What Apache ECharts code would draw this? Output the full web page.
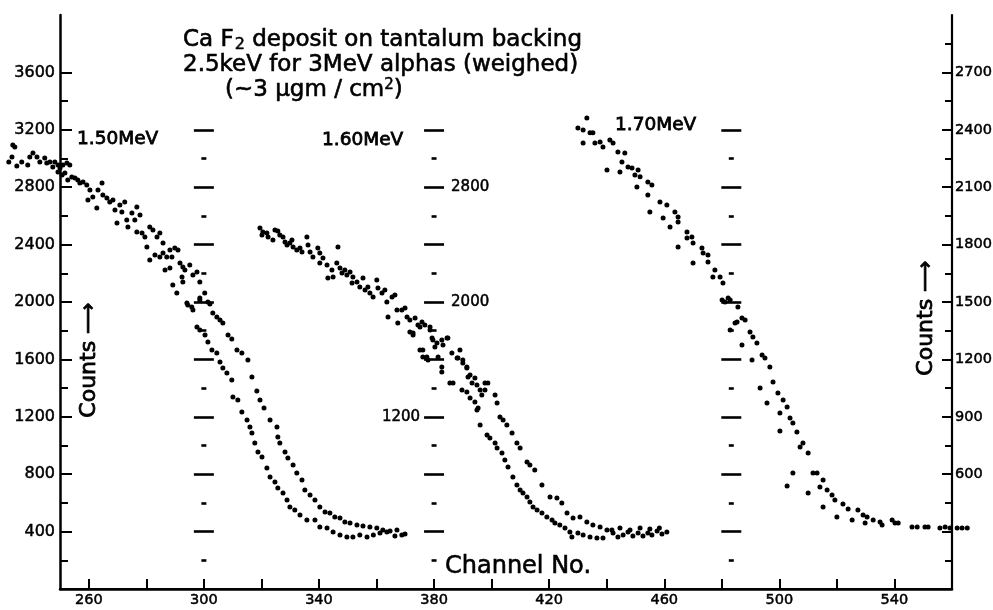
<!DOCTYPE html>
<html>
<head>
<meta charset="utf-8">
<script src="https://cdn.jsdelivr.net/npm/echarts@6/dist/echarts.min.js"></script>
<style>html,body{margin:0;padding:0;background:#fff;}#c{width:993px;height:610px;}</style>
</head>
<body>
<div id="c"></div>
<script>
// ---------- data (channel, counts) ----------
const mev150_a = [[233.6,3094],[233.3,3010],[235,2948],[239.5,3010],[242,3010],[245.4,2969],[248.2,2976],[250,2934],[252.4,2969],[249.3,2906],[251.7,2899],[254.1,2871],[256.2,2850],[258,2836],[260.4,2781],[261.4,2732],[263.2,2781],[264.9,2746],[267.3,2697],[269.1,2641],[270.8,2676],[272.5,2697],[273.6,2523],[276,2572],[277.8,2606],[278.5,2481],[280.2,2383],[282.3,2502],[284.7,2481],[283,2328],[285.8,2342],[288.2,2363],[291,2363],[288.2,2237],[291.7,2272],[290.6,2063],[293.4,2223],[296.2,2188],[298.6,2139],[300.3,2063],[301.4,2000],[302.1,1986],[303.1,1923],[304.5,1896],[305.6,1875],[306.6,1854],[308.4,1770],[309.7,1742],[311.5,1666],[313.2,1645],[315.3,1596],[316.7,1477],[318.4,1380],[319.5,1317],[320.9,1261],[323,1178],[325.4,1129],[325.7,1059],[326.4,1017],[328.2,955],[329.2,913],[331,864],[332.3,808],[334.1,760],[335.1,690],[336.9,655],[338.6,620],[340.3,571],[342.1,537],[343.8,530],[345.5,502],[347.3,495],[349,467],[350.8,460],[353.2,446],[355.3,439],[357.7,432],[360.1,425],[362.2,411],[364.7,404],[367.1,411],[369.9,383]];
const mev150_b = [[234.3,3080],[232.2,2976],[236.7,2976],[238.8,2955],[240.6,3038],[243,2976],[244.7,3003],[246.5,2976],[247.5,2941],[249.3,2955],[251,2955],[253.4,2955],[250.7,2885],[252.7,2850],[255.2,2864],[256.9,2829],[259.3,2815],[259.7,2711],[262.8,2655],[264.6,2829],[266.3,2725],[268.4,2711],[269.8,2551],[271.5,2627],[273.2,2572],[275,2620],[276.7,2662],[276.7,2488],[279.5,2453],[281.2,2523],[283.7,2453],[285.8,2411],[281.2,2293],[284.7,2314],[287.1,2314],[289.9,2376],[286.5,2223],[288.9,2314],[292.7,2244],[289.2,2119],[292.4,2174],[295.1,2258],[297.6,2209],[292.7,2139],[294.1,1993],[295.8,1965],[298.6,2028],[298.6,2014],[294.4,1979],[296.2,1944],[297.6,1826],[298.6,1805],[300.4,1770],[301.4,1721],[302.8,1666],[304.5,1645],[305.6,1582],[306.6,1540],[308,1505],[309.7,1456],[310.1,1338],[311.8,1317],[313.2,1233],[315,1178],[316,1129],[316.7,1087],[317.7,1017],[318.8,955],[320.2,920],[321.9,843],[323,781],[324.7,746],[325.7,704],[327.5,669],[328.9,620],[329.9,571],[331.6,551],[333.4,516],[335.8,481],[338.6,481],[340.3,432],[342.8,425],[344.9,397],[347.3,376],[349.7,362],[351.8,362],[354.2,376],[356.7,362],[358.9,376],[361.2,390],[363.6,397],[366.4,369],[368.8,376]];
const mev160_a = [[319.5,2516],[320.2,2467],[322.3,2453],[325.7,2495],[324,2432],[328.2,2418],[329.9,2411],[331,2383],[333.4,2376],[335.8,2453],[336.9,2349],[339.6,2376],[340.3,2272],[342.8,2258],[344.5,2223],[346.2,2272],[347.3,2237],[349,2223],[350.8,2209],[351.8,2174],[354.2,2105],[356,2084],[357.7,2063],[360.1,2153],[361.9,2063],[363.6,2000],[365.4,2035],[367.1,1944],[368.8,1944],[370.6,1896],[372.7,1784],[374.4,1840],[376.1,1666],[378.6,1826],[380.3,1686],[382.7,1547],[384.8,1749],[386.6,1436],[389,1666],[389.7,1387],[391.8,1477],[371.6,1791],[372.7,1770],[375.1,1826],[376.8,1840],[378.6,1805],[379.3,1749],[381,1714],[382.7,1735],[384.5,1749],[375.1,1666],[376.1,1617],[377.9,1596],[382.7,1512],[385.5,1436],[388.3,1610],[390,1575],[391.4,1540],[392.5,1491],[393.2,1436],[394.2,1470],[394.9,1422],[396,1387],[397.7,1436],[398.7,1436],[397.7,1387],[396.6,1352],[401.2,1352],[401.9,1296],[402.9,1199],[404,1178],[405.3,1143],[407.1,1087],[408.8,1017],[409.9,983],[412.3,885],[413.3,864],[415,829],[417.5,725],[420.3,641],[422.7,634],[424.4,599],[426.2,530],[428.3,495],[430.7,502],[433.1,467],[435.2,446],[437.7,432],[440.1,411],[441.8,411],[444.6,425],[448.1,411],[451.6,425],[455,418],[458.3,425]];
const mev160_b = [[320.5,2488],[321.9,2481],[324.7,2502],[326.4,2467],[327.5,2453],[328.9,2397],[330.6,2432],[332.3,2363],[334.1,2349],[336.2,2397],[337.9,2314],[340.3,2342],[341.4,2307],[343.1,2167],[344.9,2174],[346.6,2383],[348,2202],[349.7,2188],[351.5,2132],[353.2,2139],[355.3,2167],[357,2105],[358.8,2035],[360.5,2098],[362.9,2084],[364,1896],[366.4,2049],[367.4,1854],[369.9,1958],[371.6,1875],[373.4,1889],[375.8,1861],[377.5,1617],[379.6,1735],[381.4,1617],[383.1,1700],[386.2,1645],[388,1610],[390,1596],[391.4,1547],[391.4,1373],[392.5,1331],[394.2,1303],[394.9,1247],[395.3,1261],[396,1143],[398.4,1073],[399.4,1052],[401.2,1017],[401.9,983],[403.6,948],[404.6,899],[405.7,850],[407.4,781],[408.8,725],[409.9,690],[410.9,669],[412.3,641],[413.3,606],[414.4,571],[415.8,551],[417.5,530],[419.2,502],[421,481],[422,460],[423.7,446],[425.5,425],[427.2,397],[427.9,362],[430,390],[431.8,376],[434.2,362],[436.6,355],[438.7,355],[442.2,390],[443.9,362],[445.7,376],[447.4,397],[449.1,369],[450.9,390],[452.6,369],[454.3,390],[455.7,376],[457.5,404],[459.2,383],[460.9,397]];
// 1.70 MeV is read on the right-hand counts scale
const mev170_a = [[433.1,2462],[431.8,2399],[435.2,2384],[435.9,2331],[438.7,2310],[442.2,2331],[443.9,2284],[446.3,2279],[447.4,2206],[450.9,2190],[451.6,2154],[454.3,2127],[455.7,2112],[458.5,2023],[460.9,2007],[463.7,1971],[464.8,1944],[467.9,1866],[469.6,1840],[470,1809],[473.1,1782],[473.5,1756],[475.2,1746],[475.2,1709],[477.6,1667],[479.4,1631],[480.4,1599],[482.2,1521],[485.6,1474],[487,1417],[488.1,1406],[489.8,1343],[490.8,1317],[492.2,1286],[494,1223],[495,1207],[496.7,1160],[497.8,1082],[499.5,1024],[501.3,988],[502.7,951],[503.7,894],[504.7,868],[506.1,821],[507.2,742],[508.2,763],[510,711],[511.7,606],[513.1,606],[515.2,570],[514.1,533],[516.6,517],[518.3,491],[519.3,465],[522.1,444],[523.9,418],[527.3,413],[529.1,387],[530.5,376],[532.6,361],[535,350],[539.2,361],[541.3,345],[547.9,324],[551.7,324],[557.6,324],[561.8,319],[565.3,319]];
const mev170_b = [[430,2410],[434.2,2384],[431.8,2331],[437.7,2336],[441.1,2347],[445.3,2232],[440.1,2190],[444.6,2180],[448.8,2201],[449.8,2164],[450.5,2101],[454.3,2059],[455,1971],[459.6,1939],[464.8,1918],[462,1892],[467.9,1835],[464.8,1788],[470,1704],[476.9,1631],[480.1,1510],[481.1,1500],[482.9,1510],[485.3,1396],[482.9,1354],[484.6,1390],[487,1275],[490.5,1197],[493.3,1051],[495.7,972],[500.2,920],[500.2,826],[504.7,606],[502.7,538],[510,502],[515.2,429],[520,376],[525.3,361],[529.8,345],[535.7,335],[540.2,345],[546.1,324],[550.6,324],[555.8,319],[559.3,319],[563.5,319]];

// ---------- axes / ticks ----------
const xTickValues = [260,280,300,320,340,360,380,400,420,440,460,480,500,520,540];
const xLabelValues = [260,300,340,380,420,460,500,540];
const leftMajor = [400,800,1200,1600,2000,2400,2800,3200,3600];
const leftMinor = [200,600,1000,1400,1800,2200,2600,3000,3400];
const rightMajor = [300,600,900,1200,1500,1800,2100,2400,2700];
const rightLabels = [600,900,1200,1500,1800,2100,2400,2700];
const rightMinor = [150,450,750,1050,1350,1650,1950,2250,2550,2850];
const colMajor = [400,800,1200,1600,2000,2400,2800,3200];
const colMinor = [200,600,1000,1400,1800,2200,2600,3000];
const columnChannels = [300,380,483.3];
const midLabelsLeft = [1200];
const midLabelsRight = [2000,2800];

const X_MIN = 250, X_MAX = 560, L_MAX = 4000, R_MAX = 3000;
const G = {left:60, right:41, top:15, bottom:21};
const GW = 993 - G.left - G.right;
const xPix = ch => G.left + (ch - X_MIN) / (X_MAX - X_MIN) * GW;
const INK = '#000';
const FONT = 'DejaVu Sans';
const fmt = v => String(v);
const lbl = (extra) => Object.assign({formatter:fmt, color:INK, fontFamily:FONT, textBorderColor:INK, textBorderWidth:0.5}, extra);
const txt = (t, size, sw) => ({text:t, fontFamily:FONT, fontSize:size, fill:INK, stroke:INK, lineWidth:sw, align:'left', verticalAlign:'middle'});
const titleRich = {
  n:{fontFamily:FONT, fontSize:23, fill:INK, stroke:INK, lineWidth:0.6},
  sub:{fontFamily:FONT, fontSize:16, fill:INK, stroke:INK, lineWidth:0.5, padding:[10,0,0,1]},
  sup:{fontFamily:FONT, fontSize:15, fill:INK, stroke:INK, lineWidth:0.5, padding:[0,0,9,0]}
};
const rtxt = t => ({text:t, rich:titleRich, fill:INK, align:'left', verticalAlign:'middle'});

function colAxis(ch, len, values, width){
  return {type:'value', position:'left', min:0, max:L_MAX,
    offset: G.left - (xPix(ch) - len/2),
    axisLine:{show:false}, splitLine:{show:false}, axisLabel:{show:false},
    axisTick:{show:true, inside:true, length:len, customValues:values, lineStyle:{color:INK, width:width}}};
}

const yAxes = [
  {type:'value', position:'left', min:0, max:L_MAX,
   axisLine:{show:true, lineStyle:{color:INK, width:2.5}},
   axisTick:{show:true, inside:true, length:12, customValues:leftMajor, lineStyle:{color:INK, width:2}},
   axisLabel:lbl({customValues:leftMajor, margin:5, fontSize:16}),
   splitLine:{show:false}},
  {type:'value', position:'left', min:0, max:L_MAX,
   axisLine:{show:false}, axisLabel:{show:false}, splitLine:{show:false},
   axisTick:{show:true, inside:true, length:8, customValues:leftMinor, lineStyle:{color:INK, width:2}}},
  {type:'value', position:'right', min:0, max:R_MAX,
   axisLine:{show:true, lineStyle:{color:INK, width:2.2}},
   axisTick:{show:true, inside:true, length:10, customValues:rightMajor, lineStyle:{color:INK, width:2}},
   axisLabel:lbl({customValues:rightLabels, margin:3, fontSize:14.5}),
   splitLine:{show:false}},
  {type:'value', position:'right', min:0, max:R_MAX,
   axisLine:{show:false}, axisLabel:{show:false}, splitLine:{show:false},
   axisTick:{show:true, inside:true, length:7, customValues:rightMinor, lineStyle:{color:INK, width:2}}}
];
columnChannels.forEach(ch => {
  yAxes.push(colAxis(ch, 20, colMajor, 2.6));
  yAxes.push(colAxis(ch, 5, colMinor, 2.6));
});
// labels of the middle (1.60 MeV) scale
const midMajor = yAxes[6];
midMajor.axisLabel = lbl({show:true, customValues:midLabelsLeft, margin:4, fontSize:15});
yAxes.push({type:'value', position:'left', min:0, max:L_MAX,
  offset: G.left - (xPix(columnChannels[1]) + 10),
  axisLine:{show:false}, axisTick:{show:false}, splitLine:{show:false},
  axisLabel:lbl({show:true, inside:true, customValues:midLabelsRight, margin:7, fontSize:15})});

function sc(name, data, yIdx){
  return {type:'scatter', name:name, data:data, yAxisIndex:yIdx, clip:false,
    symbol:'circle', symbolSize:5, itemStyle:{color:INK, opacity:1}, silent:true, animation:false};
}

const chart = echarts.init(document.getElementById('c'), null, {renderer:'canvas'});
chart.setOption({
  backgroundColor:'#fff',
  animation:false,
  grid:{left:G.left, right:G.right, top:G.top, bottom:G.bottom, outerBoundsMode:'none', containLabel:false},
  xAxis:[
    {type:'value', position:'bottom', min:X_MIN, max:X_MAX,
     axisLine:{show:true, lineStyle:{color:INK, width:2.5}},
     axisTick:{show:true, inside:true, length:10, customValues:xTickValues, lineStyle:{color:INK, width:2}},
     axisLabel:lbl({customValues:xLabelValues, margin:4, fontSize:14.5}),
     splitLine:{show:false}},
    {type:'value', position:'top', min:X_MIN, max:X_MAX,
     axisLine:{show:true, lineStyle:{color:INK, width:2}},
     axisTick:{show:false}, axisLabel:{show:false}, splitLine:{show:false}}
  ],
  yAxis: yAxes,
  series:[
    sc('1.50MeV a', mev150_a, 0), sc('1.50MeV b', mev150_b, 0),
    sc('1.60MeV a', mev160_a, 0), sc('1.60MeV b', mev160_b, 0),
    sc('1.70MeV a', mev170_a, 2), sc('1.70MeV b', mev170_b, 2)
  ],
  graphic:[
    {type:'text', x:183, y:40, style:rtxt('{n|Ca F}{sub|2}{n| deposit on tantalum backing}')},
    {type:'text', x:183, y:65, style:rtxt('{n|2.5keV for 3MeV alphas (weighed)}')},
    {type:'text', x:225, y:90, style:rtxt('{n|(~3 \u03bcgm / cm}{sup|2}{n|)}')},
    {type:'text', x:77, y:139, style:txt('1.50MeV', 18.5, 0.8)},
    {type:'text', x:322, y:140, style:txt('1.60MeV', 18.5, 0.8)},
    {type:'text', x:615, y:125, style:txt('1.70MeV', 18.5, 0.8)},
    {type:'text', x:445, y:567, style:txt('Channel No.', 24, 0.6)},
    {type:'text', x:89, y:360, rotation:Math.PI/2, style:Object.assign(txt('Counts \u27f6', 22, 0.8), {align:'center'})},
    {type:'text', x:926, y:318, rotation:Math.PI/2, style:Object.assign(txt('Counts \u27f6', 22, 0.8), {align:'center'})}
  ]
});
</script>
</body>
</html>
